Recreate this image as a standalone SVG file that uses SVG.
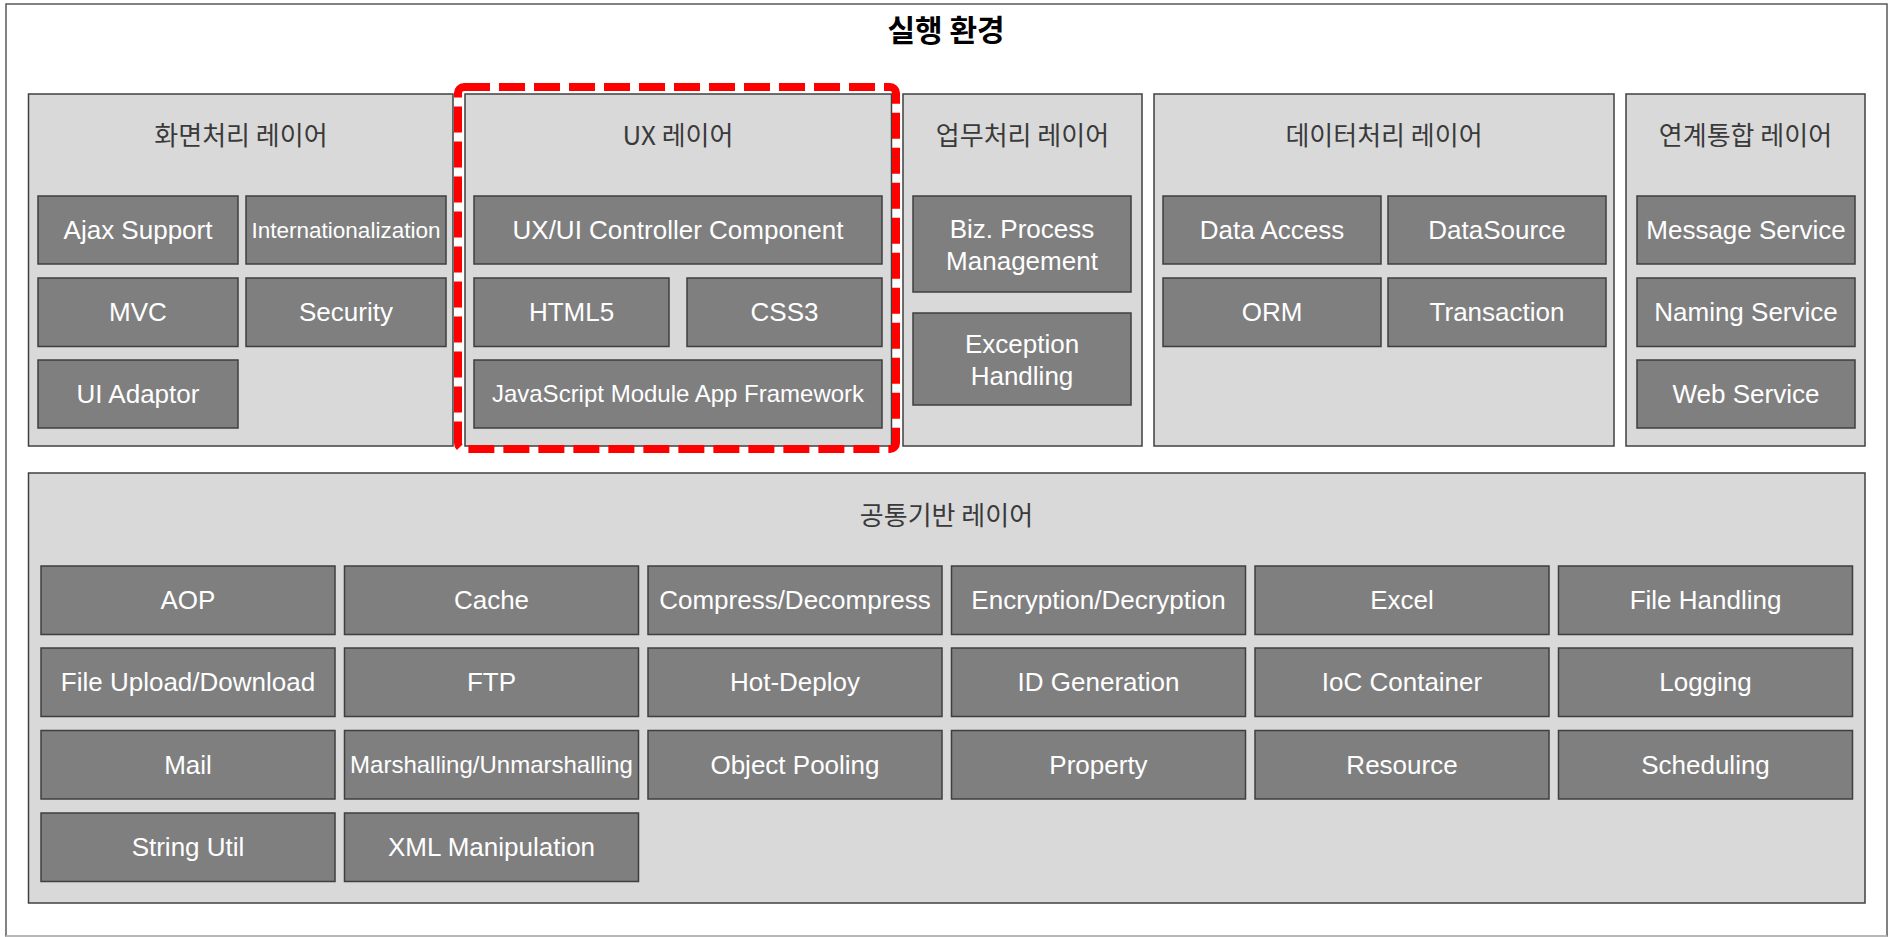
<svg xmlns="http://www.w3.org/2000/svg" width="1891" height="937" viewBox="0 0 1891 937">
<style>
.layer{fill:#d9d9d9;stroke:#404040;stroke-width:1.5}
.box{fill:#7f7f7f;stroke:#3f3f3f;stroke-width:1.5}
.lt{font-family:"Noto Sans CJK KR","Liberation Sans",sans-serif;font-size:26px;fill:#3a3a3a;text-anchor:middle}
.bt{font-family:"Liberation Sans",Arial,sans-serif;font-size:26px;fill:#ffffff;text-anchor:middle}
.title{font-family:"Noto Sans CJK KR","Liberation Sans",sans-serif;font-size:30px;font-weight:bold;fill:#000;text-anchor:middle}
</style>
<rect x="0" y="0" width="1891" height="937" fill="#ffffff"/>
<g id="frame">
<rect x="6" y="4" width="1881" height="932" fill="#ffffff" stroke="#5a5a5a" stroke-width="1.5"/>
<line x1="6" y1="936" x2="1887" y2="936" stroke="#c8c8c8" stroke-width="1.5"/>
<text class="title" x="946" y="41">실행 환경</text>
</g>

<g id="layer-screen">
<rect class="layer" x="28.5" y="94" width="424.5" height="352"/>
<text class="lt" x="241" y="145">화면처리 레이어</text>
</g>
<g id="layer-ux">
<rect class="layer" x="465" y="94" width="426.5" height="352"/>
<text class="lt" x="678" y="145">UX 레이어</text>
</g>
<g id="layer-biz">
<rect class="layer" x="903" y="94" width="239" height="352"/>
<text class="lt" x="1022.5" y="145">업무처리 레이어</text>
</g>
<g id="layer-data">
<rect class="layer" x="1154" y="94" width="460" height="352"/>
<text class="lt" x="1384" y="145">데이터처리 레이어</text>
</g>
<g id="layer-integ">
<rect class="layer" x="1626" y="94" width="239" height="352"/>
<text class="lt" x="1745.5" y="145">연계통합 레이어</text>
</g>
<g id="layer-common">
<rect class="layer" x="28.5" y="473" width="1836.5" height="430"/>
<text class="lt" x="946.5" y="525">공통기반 레이어</text>
</g>

<g id="ajax-support"><rect class="box" x="38" y="196" width="200" height="68"/><text class="bt" x="138" y="239">Ajax Support</text></g>
<g id="internationalization"><rect class="box" x="246" y="196" width="200" height="68"/><text class="bt" x="346" y="238" style="font-size:22.5px">Internationalization</text></g>
<g id="mvc"><rect class="box" x="38" y="278" width="200" height="68.5"/><text class="bt" x="138" y="321">MVC</text></g>
<g id="security"><rect class="box" x="246" y="278" width="200" height="68.5"/><text class="bt" x="346" y="321">Security</text></g>
<g id="ui-adaptor"><rect class="box" x="38" y="360" width="200" height="68"/><text class="bt" x="138" y="403">UI Adaptor</text></g>

<g id="uxui-controller"><rect class="box" x="474" y="196" width="408" height="68"/><text class="bt" x="678" y="239">UX/UI Controller Component</text></g>
<g id="html5"><rect class="box" x="474" y="278" width="195" height="68.5"/><text class="bt" x="571.5" y="321">HTML5</text></g>
<g id="css3"><rect class="box" x="687" y="278" width="195" height="68.5"/><text class="bt" x="784.5" y="321">CSS3</text></g>
<g id="js-framework"><rect class="box" x="474" y="360" width="408" height="68"/><text class="bt" x="678" y="402" style="font-size:24px">JavaScript Module App Framework</text></g>

<g id="biz-process"><rect class="box" x="913" y="196" width="218" height="96"/><text class="bt" x="1022" y="238">Biz. Process</text><text class="bt" x="1022" y="270">Management</text></g>
<g id="exception-handling"><rect class="box" x="913" y="313" width="218" height="92"/><text class="bt" x="1022" y="353">Exception</text><text class="bt" x="1022" y="385">Handling</text></g>

<g id="data-access"><rect class="box" x="1163" y="196" width="218" height="68"/><text class="bt" x="1272" y="239">Data Access</text></g>
<g id="datasource"><rect class="box" x="1388" y="196" width="218" height="68"/><text class="bt" x="1497" y="239">DataSource</text></g>
<g id="orm"><rect class="box" x="1163" y="278" width="218" height="68.5"/><text class="bt" x="1272" y="321">ORM</text></g>
<g id="transaction"><rect class="box" x="1388" y="278" width="218" height="68.5"/><text class="bt" x="1497" y="321">Transaction</text></g>

<g id="message-service"><rect class="box" x="1637" y="196" width="218" height="68"/><text class="bt" x="1746" y="239">Message Service</text></g>
<g id="naming-service"><rect class="box" x="1637" y="278" width="218" height="68.5"/><text class="bt" x="1746" y="321">Naming Service</text></g>
<g id="web-service"><rect class="box" x="1637" y="360" width="218" height="68"/><text class="bt" x="1746" y="403">Web Service</text></g>

<g id="aop"><rect class="box" x="41" y="566" width="294" height="68.5"/><text class="bt" x="188" y="609">AOP</text></g>
<g id="cache"><rect class="box" x="344.5" y="566" width="294" height="68.5"/><text class="bt" x="491.5" y="609">Cache</text></g>
<g id="compress"><rect class="box" x="648" y="566" width="294" height="68.5"/><text class="bt" x="795" y="609">Compress/Decompress</text></g>
<g id="encryption"><rect class="box" x="951.5" y="566" width="294" height="68.5"/><text class="bt" x="1098.5" y="609">Encryption/Decryption</text></g>
<g id="excel"><rect class="box" x="1255" y="566" width="294" height="68.5"/><text class="bt" x="1402" y="609">Excel</text></g>
<g id="file-handling"><rect class="box" x="1558.5" y="566" width="294" height="68.5"/><text class="bt" x="1705.5" y="609">File Handling</text></g>

<g id="file-upload"><rect class="box" x="41" y="648" width="294" height="68.5"/><text class="bt" x="188" y="691">File Upload/Download</text></g>
<g id="ftp"><rect class="box" x="344.5" y="648" width="294" height="68.5"/><text class="bt" x="491.5" y="691">FTP</text></g>
<g id="hot-deploy"><rect class="box" x="648" y="648" width="294" height="68.5"/><text class="bt" x="795" y="691">Hot-Deploy</text></g>
<g id="id-generation"><rect class="box" x="951.5" y="648" width="294" height="68.5"/><text class="bt" x="1098.5" y="691">ID Generation</text></g>
<g id="ioc-container"><rect class="box" x="1255" y="648" width="294" height="68.5"/><text class="bt" x="1402" y="691">IoC Container</text></g>
<g id="logging"><rect class="box" x="1558.5" y="648" width="294" height="68.5"/><text class="bt" x="1705.5" y="691">Logging</text></g>

<g id="mail"><rect class="box" x="41" y="730.5" width="294" height="68.5"/><text class="bt" x="188" y="773.5">Mail</text></g>
<g id="marshalling"><rect class="box" x="344.5" y="730.5" width="294" height="68.5"/><text class="bt" x="491.5" y="772.5" style="font-size:24px">Marshalling/Unmarshalling</text></g>
<g id="object-pooling"><rect class="box" x="648" y="730.5" width="294" height="68.5"/><text class="bt" x="795" y="773.5">Object Pooling</text></g>
<g id="property"><rect class="box" x="951.5" y="730.5" width="294" height="68.5"/><text class="bt" x="1098.5" y="773.5">Property</text></g>
<g id="resource"><rect class="box" x="1255" y="730.5" width="294" height="68.5"/><text class="bt" x="1402" y="773.5">Resource</text></g>
<g id="scheduling"><rect class="box" x="1558.5" y="730.5" width="294" height="68.5"/><text class="bt" x="1705.5" y="773.5">Scheduling</text></g>

<g id="string-util"><rect class="box" x="41" y="813" width="294" height="68.5"/><text class="bt" x="188" y="856">String Util</text></g>
<g id="xml-manipulation"><rect class="box" x="344.5" y="813" width="294" height="68.5"/><text class="bt" x="491.5" y="856">XML Manipulation</text></g>

<g id="ux-highlight">
<rect x="458" y="87" width="438" height="362" rx="6" fill="none" stroke="#ff0000" stroke-width="8" stroke-dasharray="26 9"/>
</g>
</svg>
